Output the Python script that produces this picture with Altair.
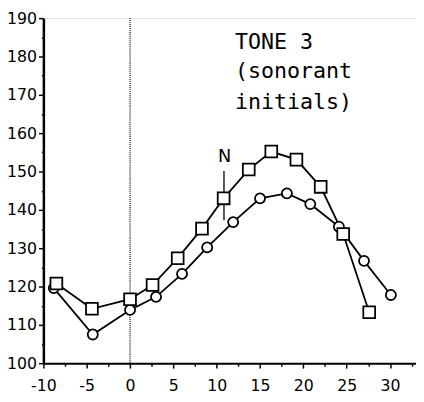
import altair as alt
import pandas as pd

# Squares series (x = time, y = F0)
sq_x = [-8.5, -4.4, 0.0, 2.6, 5.5, 8.3, 10.8, 13.7, 16.3, 19.2, 22.0, 24.6, 27.6]
sq_y = [120.8, 114.2, 116.7, 120.4, 127.4, 135.1, 143.0, 150.5, 155.2, 153.1, 146.0, 133.7, 113.3]
# Circles series
ci_x = [-8.8, -4.3, 0.0, 3.0, 6.0, 8.9, 11.9, 15.0, 18.1, 20.8, 24.1, 27.0, 30.1]
ci_y = [119.6, 107.5, 113.9, 117.3, 123.3, 130.2, 136.8, 143.0, 144.3, 141.5, 135.6, 126.7, 117.8]

x_ticks = [-10 + 2.5 * i for i in range(18)]
y_ticks = [100 + 5 * i for i in range(19)]

title_lines = ["TONE 3", "(sonorant", "initials)"]
title_x = [12.1, 12.1, 12.1]
title_y = [181.9, 174.5, 166.4]

n_label = ["N"]
n_x = [10.9]
n_y = [152.4]
n_line_x = [10.84]
n_line_y = [137.3]
n_line_y2 = [150.1]

zero_x = [0]
zero_y = [100]
zero_y2 = [190]

sq = pd.DataFrame({"x": sq_x, "y": sq_y, "i": range(len(sq_x))})
ci = pd.DataFrame({"x": ci_x, "y": ci_y, "i": range(len(ci_x))})

xscale = alt.Scale(domain=[-10, 33], nice=False, zero=False)
yscale = alt.Scale(domain=[100, 190], nice=False, zero=False)

xaxis = alt.Axis(
    values=x_ticks, tickCount=100, title=None, grid=False,
    labelExpr="datum.value % 5 === 0 ? toString(datum.value) : ''",
    labelOverlap=False, labelFlush=False, labelFont="DejaVu Sans",
    labelFontSize={"condition": {"test": "datum.value % 5 === 0", "value": 16}, "value": 1},
    labelColor="black", labelPadding=10,
    tickSize={"condition": {"test": "datum.value % 5 === 0", "value": 5}, "value": 3},
    tickColor="black", tickWidth=1.5, domainColor="black", domainWidth=2,
)
yaxis = alt.Axis(
    values=y_ticks, tickCount=100, title=None, grid=False,
    labelExpr="datum.value % 10 === 0 ? toString(datum.value) : ''",
    labelOverlap=False, labelFlush=False, labelFont="DejaVu Sans",
    labelFontSize={"condition": {"test": "datum.value % 10 === 0", "value": 16}, "value": 1},
    labelColor="black", labelPadding=2,
    tickSize={"condition": {"test": "datum.value % 10 === 0", "value": 5}, "value": 2},
    tickColor="black", tickWidth=1.5, domainColor="black", domainWidth=2.5,
)

zero = alt.Chart(pd.DataFrame({"x": zero_x, "y": zero_y, "y2": zero_y2})).mark_rule(
    color="black", strokeWidth=1.2, strokeDash=[1, 1]
).encode(
    x=alt.X("x:Q", scale=xscale, axis=xaxis),
    y=alt.Y("y:Q", scale=yscale, axis=yaxis),
    y2="y2:Q",
)

ci_line = alt.Chart(ci).mark_line(color="black", strokeWidth=1.8).encode(
    x=alt.X("x:Q", scale=xscale), y=alt.Y("y:Q", scale=yscale), order="i:Q"
)
sq_line = alt.Chart(sq).mark_line(color="black", strokeWidth=1.8).encode(
    x=alt.X("x:Q", scale=xscale), y=alt.Y("y:Q", scale=yscale), order="i:Q"
)

n_rule = alt.Chart(pd.DataFrame({"x": n_line_x, "y": n_line_y, "y2": n_line_y2})).mark_rule(
    color="black", strokeWidth=1.3
).encode(x=alt.X("x:Q", scale=xscale), y=alt.Y("y:Q", scale=yscale), y2="y2:Q")

ci_pts = alt.Chart(ci).mark_point(
    shape="circle", filled=True, fill="white", stroke="black", strokeWidth=1.8, size=105, opacity=1
).encode(x=alt.X("x:Q", scale=xscale), y=alt.Y("y:Q", scale=yscale))
sq_pts = alt.Chart(sq).mark_point(
    shape="square", filled=True, fill="white", stroke="black", strokeWidth=1.8, size=144, opacity=1
).encode(x=alt.X("x:Q", scale=xscale), y=alt.Y("y:Q", scale=yscale))

n_text = alt.Chart(pd.DataFrame({"x": n_x, "y": n_y, "t": n_label})).mark_text(
    align="center", baseline="alphabetic", font="DejaVu Sans", fontSize=18, color="black"
).encode(x=alt.X("x:Q", scale=xscale), y=alt.Y("y:Q", scale=yscale), text="t:N")

title = alt.Chart(pd.DataFrame({"x": title_x, "y": title_y, "t": title_lines})).mark_text(
    align="left", baseline="alphabetic", font="DejaVu Sans Mono", fontSize=22, color="black"
).encode(x=alt.X("x:Q", scale=xscale), y=alt.Y("y:Q", scale=yscale), text="t:N")

chart = alt.layer(zero, ci_line, sq_line, n_rule, ci_pts, sq_pts, n_text, title).properties(
    width=379, height=351,
    autosize=alt.AutoSizeParams(type="none"),
    padding={"left": 36, "top": 7, "right": 0, "bottom": 28},
).configure_view(stroke=None).configure(background="white")

chart.save("out.html", embed_options={"renderer": "svg", "actions": False})
